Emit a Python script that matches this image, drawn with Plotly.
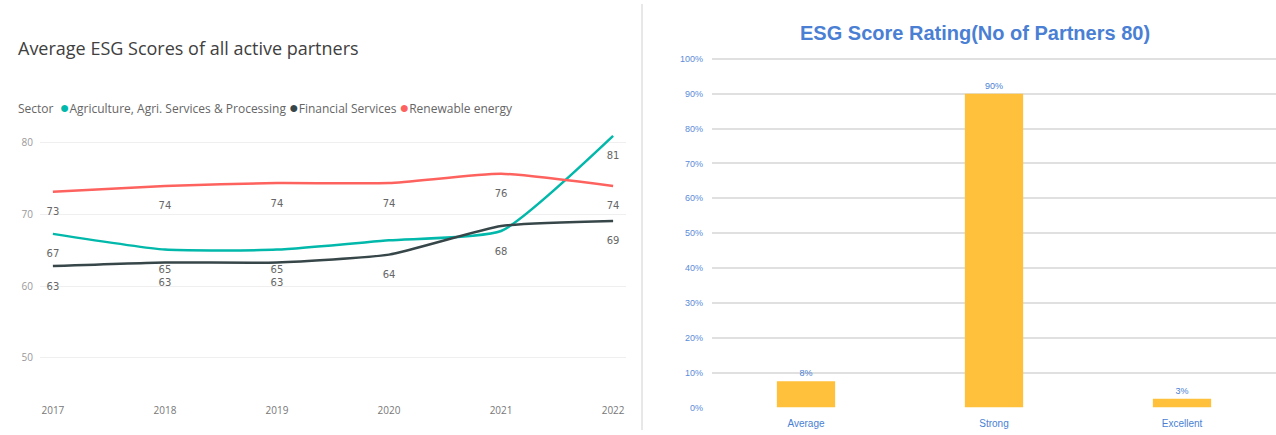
import plotly.graph_objects as go

# ---------- data ----------
years = [2017, 2018, 2019, 2020, 2021, 2022]
agri = [67.3, 65.1, 65.1, 66.4, 67.7, 81.0]
fin = [62.8, 63.3, 63.3, 64.4, 68.4, 69.1]
renew = [73.2, 74.0, 74.4, 74.4, 75.7, 74.0]
# labels that are visible in the source (overlapping ones are hidden)
agri_labels = ["67", "65", "65", "", "68", "81"]
fin_labels = ["63", "63", "63", "64", "", "69"]
renew_labels = ["73", "74", "74", "74", "76", "74"]
series_names = ["Agriculture, Agri. Services & Processing", "Financial Services", "Renewable energy"]
series_colors = ["#01B8AA", "#374649", "#FD625E"]
y_ticks_left = [50, 60, 70, 80]

rating_cats = ["Average", "Strong", "Excellent"]
rating_pct = [7.5, 90.0, 2.5]
rating_labels = ["8%", "90%", "3%"]
y_ticks_right = [0, 10, 20, 30, 40, 50, 60, 70, 80, 90, 100]

W, H = 1276, 435

fig = go.Figure()

for vals, labels, name, col in zip([agri, fin, renew],
                                   [agri_labels, fin_labels, renew_labels],
                                   series_names, series_colors):
    fig.add_trace(go.Scatter(
        x=years, y=vals, mode="lines+markers+text", name=name,
        line=dict(color=col, width=2.5, shape="spline", smoothing=0.5),
        marker=dict(size=24, color="rgba(0,0,0,0)"),
        text=labels, textposition="bottom center",
        textfont=dict(family="DejaVu Sans", size=10, color="#666666"),
        showlegend=False, xaxis="x", yaxis="y", cliponaxis=False,
    ))

fig.add_trace(go.Bar(
    x=rating_cats, y=rating_pct, marker=dict(color="#FFC13B", line=dict(width=0)),
    text=rating_labels, textposition="outside",
    textfont=dict(family="Liberation Sans", size=9, color="#4A7FD4"),
    showlegend=False, xaxis="x2", yaxis="y2", cliponaxis=False,
))

legend_text = "Sector  " + " ".join(
    f"<span style='color:{c}; font-size:16px'>●</span>{n}" for n, c in zip(series_names, series_colors)
)

fig.update_layout(
    width=W, height=H,
    margin=dict(l=0, r=0, t=0, b=0),
    paper_bgcolor="white", plot_bgcolor="white",
    font=dict(family="Open Sans", color="#666666"),
    bargap=0.69,
    showlegend=False,
    xaxis=dict(
        domain=[40 / W, 626 / W], range=[2016.885, 2022.115],
        tickvals=years, showgrid=False, zeroline=False, showline=False,
        tickfont=dict(size=10, color="#777777"), ticks="", ticklabelstandoff=2,
    ),
    yaxis=dict(
        domain=[1 - 405 / H, 1 - 120 / H], range=[44, 83],
        tickvals=y_ticks_left, showgrid=True, gridcolor="#EFEFEF", gridwidth=1,
        zeroline=False, showline=False, ticks="", ticklabelstandoff=6,
        tickfont=dict(size=10, color="#999999"),
    ),
    xaxis2=dict(
        domain=[712 / W, 1.0], anchor="y2", showgrid=False, zeroline=False,
        showline=False, ticks="", ticklabelstandoff=9,
        tickfont=dict(family="Liberation Sans", size=10, color="#4A7FD4"),
    ),
    yaxis2=dict(
        domain=[1 - 412 / H, 1 - 55 / H], range=[0, 100.3], anchor="x2",
        tickvals=y_ticks_right, ticktext=[f"{t}%" for t in y_ticks_right],
        showgrid=True, gridcolor="#E0E0E0", gridwidth=2, zeroline=False,
        showline=False, ticks="", ticklabelstandoff=8,
        tickfont=dict(family="Liberation Sans", size=9, color="#5B8BD9"),
    ),
    shapes=[dict(type="line", xref="paper", yref="paper", x0=642 / W, x1=642 / W,
                 y0=0, y1=1, line=dict(color="#D0D0D0", width=1))],
    annotations=[
        dict(text="Average ESG Scores of all active partners", xref="paper", yref="paper",
             x=16 / W, y=1 - 45 / H, xanchor="left", yanchor="middle", showarrow=False,
             font=dict(family="Open Sans", size=18, color="#404040")),
        dict(text=legend_text, xref="paper", yref="paper",
             x=16 / W, y=1 - 105 / H, xanchor="left", yanchor="middle", showarrow=False,
             font=dict(family="Open Sans", size=12, color="#666666")),
        dict(text="<b>ESG Score Rating(No of Partners 80)</b>", xref="paper", yref="paper",
             x=975 / W, y=1 - 30 / H, xanchor="center", yanchor="middle", showarrow=False,
             font=dict(family="Liberation Sans", size=20, color="#4A7FD4")),
    ],
)

fig.write_html("out.html")
